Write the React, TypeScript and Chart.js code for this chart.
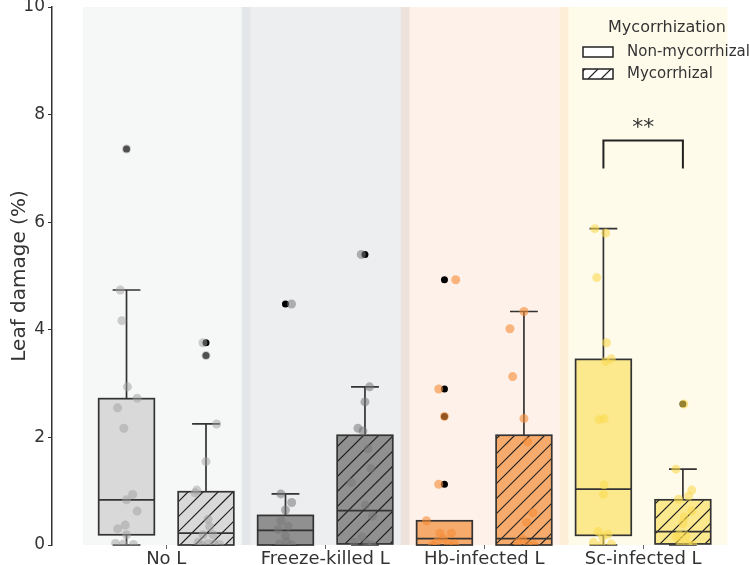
import React, { useEffect, useRef } from "react";
import { Chart, registerables } from "chart.js";

Chart.register(...registerables);

// ---- data ----
const categories = ["No L", "Freeze-killed L", "Hb-infected L", "Sc-infected L"];
const yTicks = [0, 2, 4, 6, 8, 10];

// box statistics per category: [lower whisker, Q1, median, Q3, upper whisker]
const boxNonMyc = [
  [0.0, 0.19, 0.84, 2.72, 4.74],
  [0.0, 0.0, 0.27, 0.55, 0.95],
  [0.0, 0.0, 0.12, 0.45, 0.45],
  [0.0, 0.18, 1.04, 3.45, 5.88],
];
const boxMyc = [
  [0.0, 0.0, 0.22, 0.99, 2.25],
  [0.0, 0.02, 0.64, 2.04, 2.94],
  [0.0, 0.0, 0.12, 2.04, 4.34],
  [0.0, 0.02, 0.25, 0.84, 1.41],
];

// outliers flagged by the boxplot
const fliersNonMyc = [[7.36], [4.48], [4.93, 2.9, 2.39, 1.13], []];
const fliersMyc = [[3.76, 3.52], [5.4], [], [2.62]];

// individual observations (leaf damage, %)
const pointsNonMyc = [
  [7.36, 4.74, 4.17, 2.94, 2.73, 2.55, 2.17, 0.94, 0.84, 0.63, 0.37, 0.3, 0.19, 0.03, 0.02, 0.01],
  [4.48, 0.95, 0.79, 0.65, 0.45, 0.35, 0.29, 0.17, 0.06, 0.02, 0.0],
  [4.93, 2.9, 2.39, 1.13, 0.45, 0.22, 0.22, 0.12, 0.05, 0.03, 0.02, 0.0],
  [5.88, 5.8, 4.97, 3.76, 3.46, 3.41, 2.35, 2.33, 1.12, 0.94, 0.25, 0.2, 0.15, 0.05, 0.02, 0.0],
];
const pointsMyc = [
  [3.76, 3.52, 2.25, 1.55, 1.02, 0.97, 0.48, 0.34, 0.19, 0.19, 0.05, 0.03, 0.02, 0.01, 0.0],
  [5.4, 2.94, 2.66, 2.17, 2.12, 1.79, 1.42, 1.16, 0.74, 0.54, 0.15, 0.05, 0.02, 0.0],
  [4.34, 4.02, 3.13, 2.35, 1.92, 0.6, 0.42, 0.11, 0.05, 0.02, 0.0],
  [2.62, 1.41, 1.02, 0.91, 0.85, 0.63, 0.52, 0.4, 0.19, 0.17, 0.15, 0.05, 0.02, 0.0],
];

// horizontal strip jitter (category units) for each observation
const jitterNonMyc = [
  [0, -0.039, -0.029, 0.006, 0.067, -0.056, -0.017, 0.039, 0, 0.067, -0.008, -0.056, 0, -0.069, -0.019, 0.044],
  [0.038, -0.029, 0.039, 0, -0.029, 0.017, -0.046, 0, 0.008, -0.038, 0.038],
  [0.071, -0.036, 0, -0.036, -0.113, -0.029, 0.044, -0.008, -0.05, 0.025, 0.063, -0.075],
  [-0.054, 0.014, -0.042, 0.019, 0.05, 0.014, 0.004, -0.027, 0.004, 0, -0.033, 0.029, -0.006, -0.063, 0.05, -0.013],
];
const jitterMyc = [
  [-0.019, 0, 0.067, 0, -0.058, -0.069, 0.013, 0.023, -0.019, 0.044, -0.05, 0.013, 0.05, 0.085, -0.025],
  [-0.023, 0.029, 0, -0.044, -0.013, 0.019, 0.038, -0.086, 0.004, 0.048, -0.019, -0.069, 0.013, 0.044],
  [0, -0.088, -0.071, 0, 0.023, 0.056, 0.017, -0.008, -0.038, 0.025, 0.063],
  [0.006, -0.044, 0.056, 0.036, -0.027, 0.056, 0.008, 0, -0.023, 0.019, -0.044, -0.019, 0.031, 0.063],
];

// significance annotation between the two Sc-infected boxes
const sigGroup = 3;
const sigLabel = "**";
const sigTop = 7.52;
const sigLegBottom = 7.0;

// ---- styles ----
const FONT = "'DejaVu Sans', 'Liberation Sans', sans-serif";
const TEXT = "#333333";
const boxFills = ["#d9d9d9", "#909090", "#f6aa6b", "#fce98e"];
const pointColors = [
  "rgba(160,160,160,0.5)",
  "rgba(120,120,120,0.55)",
  "rgba(245,140,55,0.6)",
  "rgba(250,218,80,0.6)",
];
const bandColors = [
  "rgba(180,190,190,0.12)",
  "rgba(130,140,155,0.15)",
  "rgba(245,140,70,0.12)",
  "rgba(250,225,90,0.12)",
];
const OFFSET = 0.25;
const BOX_HALF = 0.175;
const CAP_HALF = 0.0875;

function drawHatch(ctx: CanvasRenderingContext2D, l: number, t: number, r: number, b: number) {
  ctx.save();
  ctx.beginPath();
  ctx.rect(l, t, r - l, b - t);
  ctx.clip();
  ctx.strokeStyle = "#222";
  ctx.lineWidth = 1.2;
  const h = b - t;
  const step = 15;
  const start = Math.floor((l - h) / step) * step;
  ctx.beginPath();
  for (let x0 = start; x0 <= r; x0 += step) {
    ctx.moveTo(x0, b);
    ctx.lineTo(x0 + h, t);
  }
  ctx.stroke();
  ctx.restore();
}

function drawBox(chart: any, center: number, stats: number[], fill: string, hatched: boolean) {
  const { ctx, scales } = chart;
  const xs = scales.x;
  const ys = scales.y;
  const cx = xs.getPixelForValue(center);
  const xl = xs.getPixelForValue(center - BOX_HALF);
  const xr = xs.getPixelForValue(center + BOX_HALF);
  const cl = xs.getPixelForValue(center - CAP_HALF);
  const cr = xs.getPixelForValue(center + CAP_HALF);
  const [lo, q1, med, q3, hi] = stats.map((v) => ys.getPixelForValue(v));
  ctx.save();
  ctx.strokeStyle = "#333";
  ctx.lineWidth = 1.7;
  ctx.beginPath();
  ctx.moveTo(cx, q3);
  ctx.lineTo(cx, hi);
  ctx.moveTo(cl, hi);
  ctx.lineTo(cr, hi);
  ctx.moveTo(cx, q1);
  ctx.lineTo(cx, lo);
  ctx.moveTo(cl, lo);
  ctx.lineTo(cr, lo);
  ctx.stroke();
  ctx.fillStyle = fill;
  ctx.fillRect(xl, q3, xr - xl, q1 - q3);
  if (hatched) drawHatch(ctx, xl, q3, xr, q1);
  ctx.strokeStyle = "#333";
  ctx.lineWidth = 1.7;
  ctx.strokeRect(xl, q3, xr - xl, q1 - q3);
  ctx.beginPath();
  ctx.moveTo(xl, med);
  ctx.lineTo(xr, med);
  ctx.stroke();
  ctx.restore();
}

const decorPlugin = {
  id: "boxDecor",
  beforeDatasetsDraw(chart: any) {
    const { ctx, scales } = chart;
    const xs = scales.x;
    const ys = scales.y;
    const top = ys.getPixelForValue(10);
    const bottom = ys.getPixelForValue(0);
    ctx.save();
    categories.forEach((_, i) => {
      const l = xs.getPixelForValue(i - 0.525);
      const r = xs.getPixelForValue(i + 0.53);
      ctx.fillStyle = bandColors[i];
      ctx.fillRect(l, top, r - l, bottom - top);
    });
    ctx.restore();
    categories.forEach((_, i) => {
      drawBox(chart, i - OFFSET, boxNonMyc[i], boxFills[i], false);
      drawBox(chart, i + OFFSET, boxMyc[i], boxFills[i], true);
    });
  },
  afterDatasetsDraw(chart: any) {
    const { ctx, scales } = chart;
    const xs = scales.x;
    const ys = scales.y;
    // significance bracket
    const l = xs.getPixelForValue(sigGroup - OFFSET);
    const r = xs.getPixelForValue(sigGroup + OFFSET);
    const t = ys.getPixelForValue(sigTop);
    const b = ys.getPixelForValue(sigLegBottom);
    ctx.save();
    ctx.strokeStyle = "#222";
    ctx.lineWidth = 2;
    ctx.beginPath();
    ctx.moveTo(l, b);
    ctx.lineTo(l, t);
    ctx.lineTo(r, t);
    ctx.lineTo(r, b);
    ctx.stroke();
    ctx.fillStyle = TEXT;
    ctx.font = `22px ${FONT}`;
    ctx.textAlign = "center";
    ctx.textBaseline = "alphabetic";
    ctx.fillText(sigLabel, (l + r) / 2, t - 6);

    // legend
    ctx.font = `16px ${FONT}`;
    ctx.textBaseline = "middle";
    ctx.textAlign = "center";
    ctx.fillText("Mycorrhization", 667, 28);
    ctx.font = `15px ${FONT}`;
    ctx.textAlign = "left";
    const entries = [
      { label: "Non-mycorrhizal", hatched: false, y: 47 },
      { label: "Mycorrhizal", hatched: true, y: 69 },
    ];
    entries.forEach((e) => {
      ctx.fillStyle = "#ffffff";
      ctx.fillRect(583, e.y, 30, 10);
      if (e.hatched) {
        ctx.save();
        ctx.beginPath();
        ctx.rect(583, e.y, 30, 10);
        ctx.clip();
        ctx.strokeStyle = "#222";
        ctx.lineWidth = 1.2;
        ctx.beginPath();
        for (let x0 = 575; x0 < 620; x0 += 13) {
          ctx.moveTo(x0, e.y + 10);
          ctx.lineTo(x0 + 10, e.y);
        }
        ctx.stroke();
        ctx.restore();
      }
      ctx.strokeStyle = "#222";
      ctx.lineWidth = 1.5;
      ctx.strokeRect(583, e.y, 30, 10);
      ctx.fillStyle = TEXT;
      ctx.fillText(e.label, 627, e.y + 5);
    });
    ctx.restore();
  },
};

export default function App() {
  const ref = useRef<HTMLCanvasElement | null>(null);

  useEffect(() => {
    if (!ref.current) return;
    const datasets: any[] = [];
    categories.forEach((_, i) => {
      datasets.push({
        data: pointsNonMyc[i].map((v, k) => ({ x: i - OFFSET + jitterNonMyc[i][k], y: v })),
        backgroundColor: pointColors[i],
        borderWidth: 0,
        pointRadius: 4.5,
        order: 1,
      });
      datasets.push({
        data: pointsMyc[i].map((v, k) => ({ x: i + OFFSET + jitterMyc[i][k], y: v })),
        backgroundColor: pointColors[i],
        borderWidth: 0,
        pointRadius: 4.5,
        order: 1,
      });
      datasets.push({
        data: fliersNonMyc[i].map((v) => ({ x: i - OFFSET, y: v })),
        backgroundColor: "#000",
        borderWidth: 0,
        pointRadius: 3.5,
        order: 2,
      });
      datasets.push({
        data: fliersMyc[i].map((v) => ({ x: i + OFFSET, y: v })),
        backgroundColor: "#000",
        borderWidth: 0,
        pointRadius: 3.5,
        order: 2,
      });
    });

    const chart = new Chart(ref.current, {
      type: "scatter",
      data: { datasets },
      plugins: [decorPlugin],
      options: {
        animation: false,
        responsive: false,
        maintainAspectRatio: false,
        layout: { padding: { top: 7, right: 0, left: 0, bottom: 0 } },
        plugins: { legend: { display: false }, tooltip: { enabled: false } },
        scales: {
          x: {
            type: "linear",
            min: -0.71875,
            max: 3.6375,
            afterBuildTicks: (s: any) => {
              s.ticks = categories.map((_, i) => ({ value: i }));
            },
            ticks: {
              callback: (v: any) => categories[Number(v)] ?? "",
              font: { family: FONT, size: 18 },
              color: TEXT,
              padding: 0,
              autoSkip: false,
              maxRotation: 0,
            },
            grid: { drawOnChartArea: false, drawTicks: true, tickLength: 4, color: "#666" },
            border: { display: false },
            afterFit: (s: any) => {
              s.height = 20;
              s.paddingLeft = 0;
              s.paddingRight = 0;
            },
          },
          y: {
            min: 0,
            max: 10,
            afterBuildTicks: (s: any) => {
              s.ticks = yTicks.map((v) => ({ value: v }));
            },
            ticks: { font: { family: FONT, size: 17 }, color: TEXT, padding: 3 },
            grid: { drawOnChartArea: false, drawTicks: true, tickLength: 4, color: "#333" },
            border: { display: true, color: "#333", width: 1.5 },
            title: {
              display: true,
              text: "Leaf damage (%)",
              font: { family: FONT, size: 20 },
              color: TEXT,
              padding: { top: 8, bottom: 0 },
            },
            afterFit: (s: any) => {
              s.width = 52;
              s.paddingTop = 0;
              s.paddingBottom = 0;
            },
          },
        },
      },
    } as any);
    return () => chart.destroy();
  }, []);

  return (
    <div style={{ position: "fixed", left: 0, top: 0, width: 749, height: 565, background: "#fff" }}>
      <canvas ref={ref} width={749} height={565} style={{ width: 749, height: 565 }} />
    </div>
  );
}
